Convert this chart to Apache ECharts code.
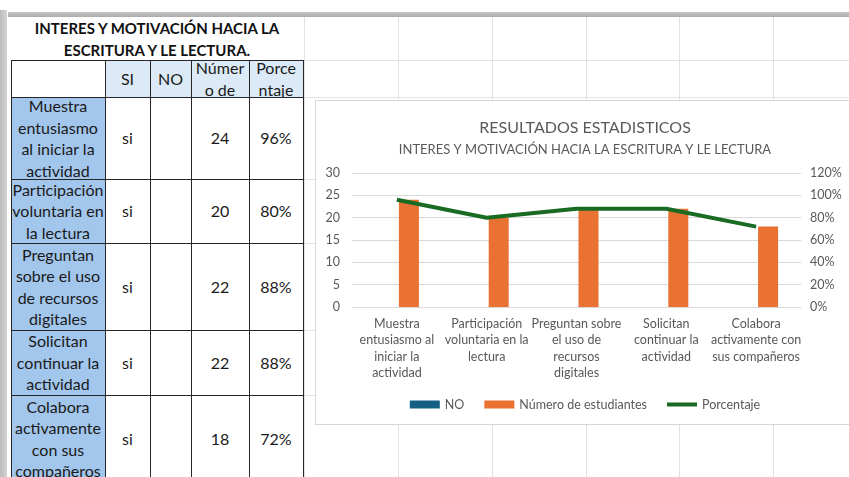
<!DOCTYPE html>
<html>
<head>
<meta charset="utf-8">
<script src="https://cdn.jsdelivr.net/npm/echarts@6/dist/echarts.min.js"></script>
<style>
  html, body {
    margin: 0;
    padding: 0;
    width: 849px;
    height: 477px;
    overflow: hidden;
    background: #fff;
    font-family: Lato, 'Noto Sans', sans-serif;
  }
  .abs { position: absolute; }
  .frame-top { left: 8px; top: 12px; width: 841px; height: 5px; background: linear-gradient(#c6c6c6, #acacac); }
  .frame-left { left: 0; top: 10px; width: 7px; height: 467px; background: linear-gradient(90deg, #bcbcbc, #d4d4d4); }
  .grid-v { top: 17px; width: 1px; height: 460px; background: #e2e2e2; }
  .grid-h { left: 303px; width: 546px; height: 1px; background: #e2e2e2; }
  .sheet-title {
    left: 11px; top: 17px; width: 292px; height: 43px;
    text-align: center; font-weight: bold; font-size: 15px; line-height: 22px; color: #111;
  }
  .cell {
    display: flex; align-items: center; justify-content: center;
    text-align: center; white-space: pre-line; overflow: hidden;
    font-size: 16px; line-height: 21.5px; color: #1a1a1a;
  }
  .tline { background: #262626; }
  #chart {
    left: 315px; top: 100px; width: 540px; height: 325px;
    border: 1px solid #d6d6d6; box-sizing: border-box; background: #fff;
  }
</style>
</head>
<body>
<div class="abs frame-top"></div>
<div class="abs frame-left"></div>
<div id="sheet"></div>
<div class="abs sheet-title">INTERES Y MOTIVACIÓN HACIA LA<br>ESCRITURA Y LE LECTURA.</div>
<div id="table"></div>
<div id="chart" class="abs"></div>

<script>
// datos de la tabla / gráfico
const categories = [
  'Muestra entusiasmo al iniciar la actividad',
  'Participación voluntaria en la lectura',
  'Preguntan sobre el uso de recursos digitales',
  'Solicitan continuar la actividad',
  'Colabora activamente con sus compañeros'
];
const tableLabelLines = [
  'Muestra\nentusiasmo\nal iniciar la\nactividad',
  'Participación\nvoluntaria en\nla lectura',
  'Preguntan\nsobre el uso\nde recursos\ndigitales',
  'Solicitan\ncontinuar la\nactividad',
  'Colabora\nactivamente\ncon sus\ncompañeros'
];
const axisLabelLines = [
  'Muestra\nentusiasmo al\niniciar la\nactividad',
  'Participación\nvoluntaria en la\nlectura',
  'Preguntan sobre\nel uso de\nrecursos\ndigitales',
  'Solicitan\ncontinuar la\nactividad',
  'Colabora\nactivamente con\nsus compañeros'
];
const tableHeaders = ['', 'SI', 'NO', 'Númer\no de', 'Porce\nntaje'];
const siAnswers = ['si', 'si', 'si', 'si', 'si'];
const noValues = [null, null, null, null, null];
const studentCounts = [24, 20, 22, 22, 18];
const percentages = [0.96, 0.80, 0.88, 0.88, 0.72];

// hoja de cálculo: líneas de cuadrícula
const sheet = document.getElementById('sheet');
[304, 398, 492, 586, 679, 773].forEach(x => {
  const d = document.createElement('div');
  d.className = 'abs grid-v';
  d.style.left = x + 'px';
  sheet.appendChild(d);
});
[60, 97, 179, 243, 330, 395].forEach(y => {
  const d = document.createElement('div');
  d.className = 'abs grid-h';
  d.style.top = y + 'px';
  sheet.appendChild(d);
});

// tabla
const colX = [11, 105, 150, 191, 249, 303];
const rowY = [60, 97, 179, 243, 330, 395, 482];
const table = document.getElementById('table');

function addCell(c, r, text, bg) {
  const d = document.createElement('div');
  d.className = 'abs cell';
  d.style.left = colX[c] + 'px';
  d.style.top = rowY[r] + 'px';
  d.style.width = (colX[c + 1] - colX[c]) + 'px';
  d.style.height = (rowY[r + 1] - rowY[r]) + 'px';
  if (bg) d.style.background = bg;
  d.textContent = text;
  table.appendChild(d);
}

tableHeaders.forEach((h, c) => addCell(c, 0, h, c > 0 ? '#dceaf7' : '#fff'));
tableLabelLines.forEach((label, i) => {
  addCell(0, i + 1, label, '#a2c6ec');
  addCell(1, i + 1, siAnswers[i]);
  addCell(2, i + 1, noValues[i] == null ? '' : String(noValues[i]));
  addCell(3, i + 1, String(studentCounts[i]));
  addCell(4, i + 1, Math.round(percentages[i] * 100) + '%');
});
colX.forEach(x => {
  const d = document.createElement('div');
  d.className = 'abs tline';
  d.style.left = x + 'px';
  d.style.top = rowY[0] + 'px';
  d.style.width = '1px';
  d.style.height = (477 - rowY[0]) + 'px';
  table.appendChild(d);
});
rowY.forEach(y => {
  const d = document.createElement('div');
  d.className = 'abs tline';
  d.style.left = colX[0] + 'px';
  d.style.top = y + 'px';
  d.style.width = (colX[colX.length - 1] - colX[0] + 1) + 'px';
  d.style.height = '1px';
  table.appendChild(d);
});

// gráfico
const labelColor = '#595959';
// icono de línea para la leyenda (franja central de 4px dentro de una caja 30x8)
const lineIcon = 'path://M0,0H0.01V0.01H0Z M0,2H30V6H0Z M29.99,7.99H30V8H29.99Z';

const chart = echarts.init(document.getElementById('chart'));
chart.setOption({
  animation: false,
  textStyle: { fontFamily: 'Lato' },
  title: [
    {
      text: 'RESULTADOS ESTADISTICOS',
      left: 'center',
      top: 14,
      textStyle: { fontSize: 16, fontWeight: 'normal', color: labelColor }
    },
    {
      text: 'INTERES Y MOTIVACIÓN HACIA LA ESCRITURA Y LE LECTURA',
      left: 'center',
      top: 37,
      textStyle: { fontSize: 13, fontWeight: 'normal', color: labelColor }
    }
  ],
  legend: {
    top: 292,
    left: 'center',
    itemWidth: 30,
    itemHeight: 8,
    itemGap: 20,
    textStyle: { fontSize: 12.5, color: labelColor },
    data: [
      { name: 'NO', icon: 'rect' },
      { name: 'Número de estudiantes', icon: 'rect' },
      { name: 'Porcentaje', icon: lineIcon }
    ]
  },
  grid: {
    left: 36,
    right: 53,
    top: 72,
    height: 134,
    outerBoundsMode: 'none'
  },
  xAxis: {
    type: 'category',
    data: axisLabelLines,
    axisLine: { lineStyle: { color: '#d9d9d9' } },
    axisTick: { show: false },
    axisLabel: {
      interval: 0,
      color: labelColor,
      fontSize: 12.5,
      lineHeight: 16.3,
      margin: 9
    }
  },
  yAxis: [
    {
      type: 'value',
      min: 0,
      max: 30,
      interval: 5,
      axisLine: { show: false },
      axisTick: { show: false },
      axisLabel: { color: labelColor, fontSize: 12.5, margin: 12 },
      splitLine: { lineStyle: { color: '#d9d9d9' } }
    },
    {
      type: 'value',
      min: 0,
      max: 1.2,
      interval: 0.2,
      axisLine: { show: false },
      axisTick: { show: false },
      axisLabel: {
        color: labelColor,
        fontSize: 12.5,
        margin: 9,
        formatter: v => Math.round(v * 100) + '%'
      },
      splitLine: { show: false }
    }
  ],
  series: [
    {
      name: 'NO',
      type: 'bar',
      data: noValues,
      barWidth: 20,
      barGap: '20%',
      itemStyle: { color: '#156082' }
    },
    {
      name: 'Número de estudiantes',
      type: 'bar',
      data: studentCounts,
      barWidth: 20,
      barGap: '20%',
      itemStyle: { color: '#e97132' }
    },
    {
      name: 'Porcentaje',
      type: 'line',
      yAxisIndex: 1,
      data: percentages,
      symbol: 'none',
      lineStyle: { width: 4, color: '#196b24' },
      itemStyle: { color: '#196b24' }
    }
  ]
});
</script>
</body>
</html>
